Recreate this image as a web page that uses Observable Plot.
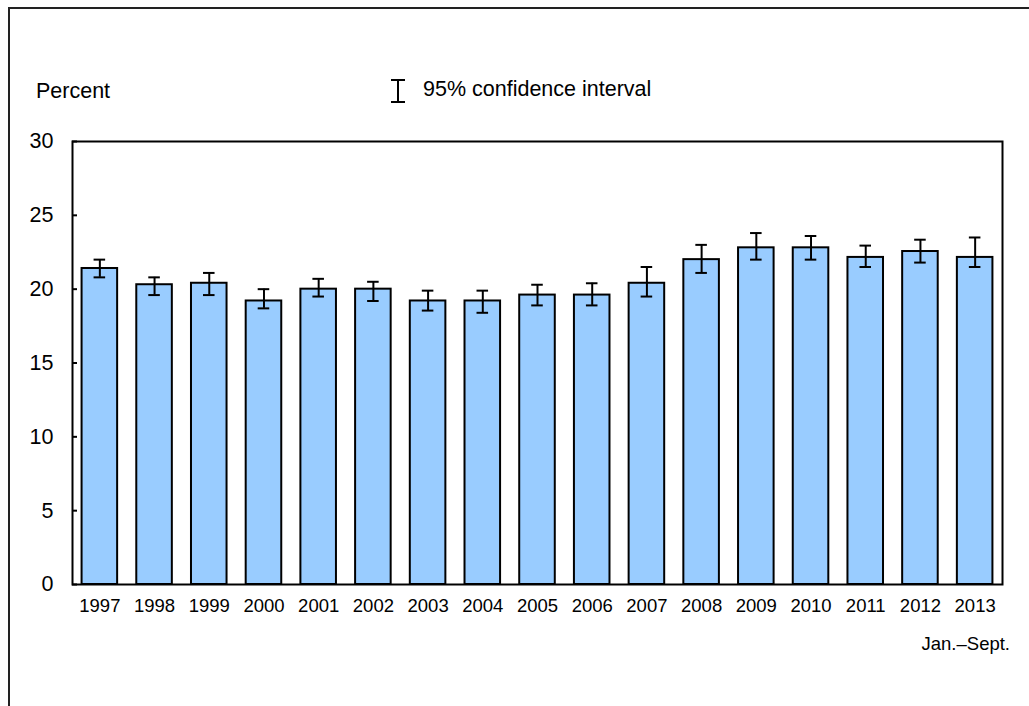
<!DOCTYPE html>
<html>
<head>
<meta charset="utf-8">
<script src="https://cdn.jsdelivr.net/npm/d3@7"></script>
<script src="https://cdn.jsdelivr.net/npm/@observablehq/plot@0.6"></script>
<style>
  html, body { margin: 0; padding: 0; background: #fff; }
  #wrap { position: relative; width: 1029px; height: 706px; overflow: hidden; font-family: "Liberation Sans", Arial, sans-serif; color: #000; }
  #border { position: absolute; left: 8px; top: 7px; width: 2000px; height: 2000px; border-left: 2px solid #222; border-top: 2px solid #222; }
  .lbl { position: absolute; white-space: nowrap; line-height: 1; }
  #chart { position: absolute; left: 0; top: 0; }
</style>
</head>
<body>
<div id="wrap">
  <div id="border"></div>
  <div id="chart"></div>
  <div class="lbl" style="left:36px; top:81px; font-size:21.5px;">Percent</div>
  <svg class="lbl" style="left:389px; top:78px;" width="18" height="26">
    <path d="M2,2H16M9,2V24M2,24H16" stroke="#000" stroke-width="2" fill="none"/>
  </svg>
  <div class="lbl" style="left:423px; top:79px; font-size:21.5px;">95% confidence interval</div>
  <div class="lbl" style="right:19px; top:635px; font-size:18.5px;">Jan.–Sept.</div>
</div>
<script>
const years = ["1997","1998","1999","2000","2001","2002","2003","2004","2005","2006","2007","2008","2009","2010","2011","2012","2013"];
const percent = [21.4, 20.3, 20.4, 19.2, 20.0, 20.0, 19.2, 19.2, 19.6, 19.6, 20.4, 22.0, 22.8, 22.8, 22.15, 22.55, 22.15];
const ciLow  = [20.8, 19.6, 19.6, 18.7, 19.5, 19.2, 18.55, 18.4, 18.9, 18.9, 19.5, 21.1, 22.0, 22.0, 21.5, 21.8, 21.5];
const ciHigh = [22.0, 20.8, 21.1, 20.0, 20.7, 20.5, 19.9, 19.9, 20.3, 20.4, 21.5, 23.0, 23.8, 23.6, 22.95, 23.35, 23.5];
const yTicks = [0, 5, 10, 15, 20, 25, 30];

const data = years.map((year, i) => ({year, value: percent[i], lo: ciLow[i], hi: ciHigh[i]}));

const chart = Plot.plot({
  width: 1029,
  height: 706,
  marginLeft: 72,
  marginTop: 141,
  marginRight: 27,
  marginBottom: 122,
  style: {fontFamily: "'Liberation Sans', Arial, sans-serif", background: "transparent", color: "#000"},
  x: {domain: years, paddingInner: 0.35, paddingOuter: 0.175, round: false, label: null},
  y: {domain: [0, 30], label: null},
  marks: [
    Plot.barY(data, {x: "year", y: "value", fill: "#99ccff", stroke: "#000", strokeWidth: 2}),
    Plot.ruleX(data, {x: "year", y1: "lo", y2: "hi", stroke: "#000", strokeWidth: 2}),
    Plot.tickY(data, {x: "year", y: "lo", stroke: "#000", strokeWidth: 2, insetLeft: 12, insetRight: 12}),
    Plot.tickY(data, {x: "year", y: "hi", stroke: "#000", strokeWidth: 2, insetLeft: 12, insetRight: 12}),
    Plot.axisY({ticks: yTicks, tickSize: -5, tickPadding: 24, fontSize: 21.5, stroke: "#000", strokeWidth: 2, label: null}),
    Plot.axisX({tickSize: 0, tickPadding: 14, fontSize: 18.5, label: null}),
    Plot.frame({stroke: "#000", strokeWidth: 2})
  ]
});
document.getElementById("chart").appendChild(chart);
</script>
</body>
</html>
